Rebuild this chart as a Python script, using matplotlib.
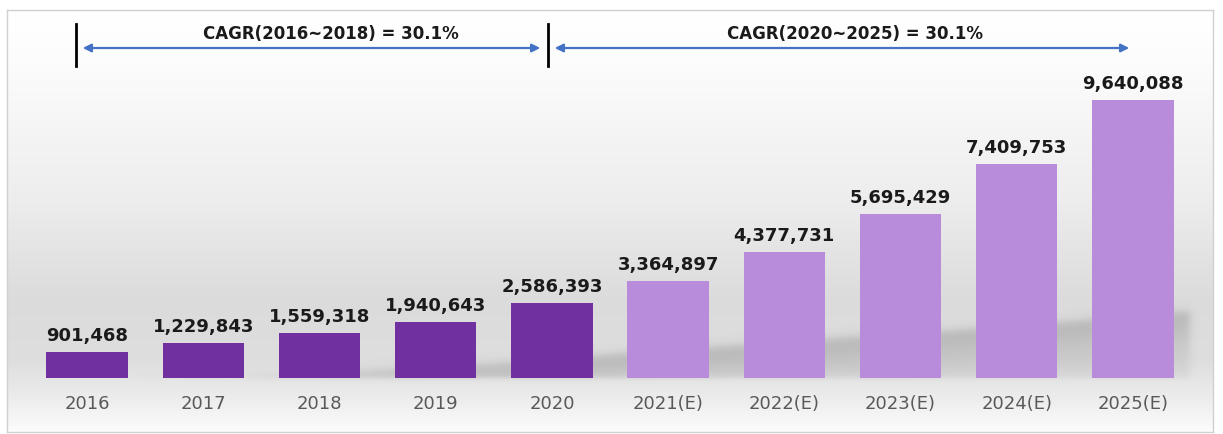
import matplotlib
matplotlib.use("Agg")
import matplotlib.pyplot as plt
import numpy as np
from matplotlib.patches import FancyArrowPatch

categories = ["2016", "2017", "2018", "2019", "2020",
              "2021(E)", "2022(E)", "2023(E)", "2024(E)", "2025(E)"]
values = [901468, 1229843, 1559318, 1940643, 2586393,
          3364897, 4377731, 5695429, 7409753, 9640088]
is_estimate = [False] * 5 + [True] * 5
cagr_labels = ["CAGR(2016~2018) = 30.1%", "CAGR(2020~2025) = 30.1%"]

W, H = 1223, 434
fig = plt.figure(figsize=(W / 100, H / 100), dpi=100)
fig.patch.set_facecolor("white")

# background panel (gradient + soft floor shadow)
L, T, R, B = 7, 10, 1213, 432
bg = fig.add_axes([L / W, 1 - B / H, (R - L) / W, (B - T) / H])
py = np.arange(T, B) + 0.5
px = np.arange(L, R) + 0.5
shade = np.interp(py, [10, 60, 200, 300, 360, 400, 432], [1.0, 0.99, 0.93, 0.86, 0.87, 0.93, 0.99])
img = np.repeat(shade[:, None], len(px), axis=1)
rgb = np.dstack([img, img, img])
bg.imshow(rgb, extent=[L, R, B, T], aspect="auto", interpolation="bilinear")

PX, PY = np.meshgrid(px, py)
top = np.interp(PX, [29, 300, 500, 650, 850, 1000, 1190], [378, 374, 364, 352, 338, 328, 312])
d = PY - top
sig = lambda z: 1 / (1 + np.exp(-z))
alpha = (0.32 * sig(d / 3.0) * np.exp(-np.clip(d, 0, None) / 45)
         * sig((378 - PY) / 1.5) * sig((1190 - PX) / 2.5) * sig((PX - 300) / 60))
shadow = np.zeros(PX.shape + (4,))
shadow[..., :3] = 0.35
shadow[..., 3] = alpha
bg.imshow(shadow, extent=[L, R, B, T], aspect="auto", interpolation="bilinear")
bg.set_xlim(L, R); bg.set_ylim(B, T)
for s in bg.spines.values():
    s.set_color("#d0d0d0"); s.set_linewidth(1)
bg.set_xticks([]); bg.set_yticks([])

# main axes
ax = fig.add_axes([29 / W, 1 - 378 / H, (1191 - 29) / W, (378 - 20) / H])
ax.patch.set_alpha(0)
x = np.arange(len(categories))
ymax = 9640088 * 358 / 278
ax.set_xlim(-0.5, len(categories) - 0.5)
ax.set_ylim(0, ymax)

dark = "#7030A0"
light = "#B98BDB"
colors = [light if e else dark for e in is_estimate]

ax.bar(x, values, width=0.7, color=colors, zorder=3)
for xi, v in zip(x, values):
    ax.annotate(f"{v:,}", (xi, v), xytext=(0, 5), textcoords="offset points",
                ha="center", va="bottom", fontsize=13, fontweight="bold",
                color="#1a1a1a", zorder=4)

ax.set_xticks(x)
ax.set_xticklabels(categories, fontsize=13, color="#595959")
ax.tick_params(axis="x", length=0, pad=12)
ax.set_yticks([])
for s in ax.spines.values():
    s.set_visible(False)

# CAGR annotations in figure pixel space
def fx(p):
    return p / W

def fy(p):
    return 1 - p / H

for xl in (76, 548):
    fig.add_artist(plt.Line2D([fx(xl), fx(xl)], [fy(24), fy(66)], color="black", lw=2))

arrow_style = dict(arrowstyle="<|-|>", color="#4472C4", lw=1.6, mutation_scale=12)
fig.add_artist(FancyArrowPatch((fx(80), fy(48)), (fx(543), fy(48)),
                               transform=fig.transFigure, **arrow_style))
fig.add_artist(FancyArrowPatch((fx(552), fy(48)), (fx(1132), fy(48)),
                               transform=fig.transFigure, **arrow_style))
fig.text(fx(331), fy(34), cagr_labels[0], ha="center", va="center",
         fontsize=12, fontweight="bold", color="#1a1a1a")
fig.text(fx(855), fy(34), cagr_labels[1], ha="center", va="center",
         fontsize=12, fontweight="bold", color="#1a1a1a")

fig.savefig("out.png", dpi=100, facecolor="white")
